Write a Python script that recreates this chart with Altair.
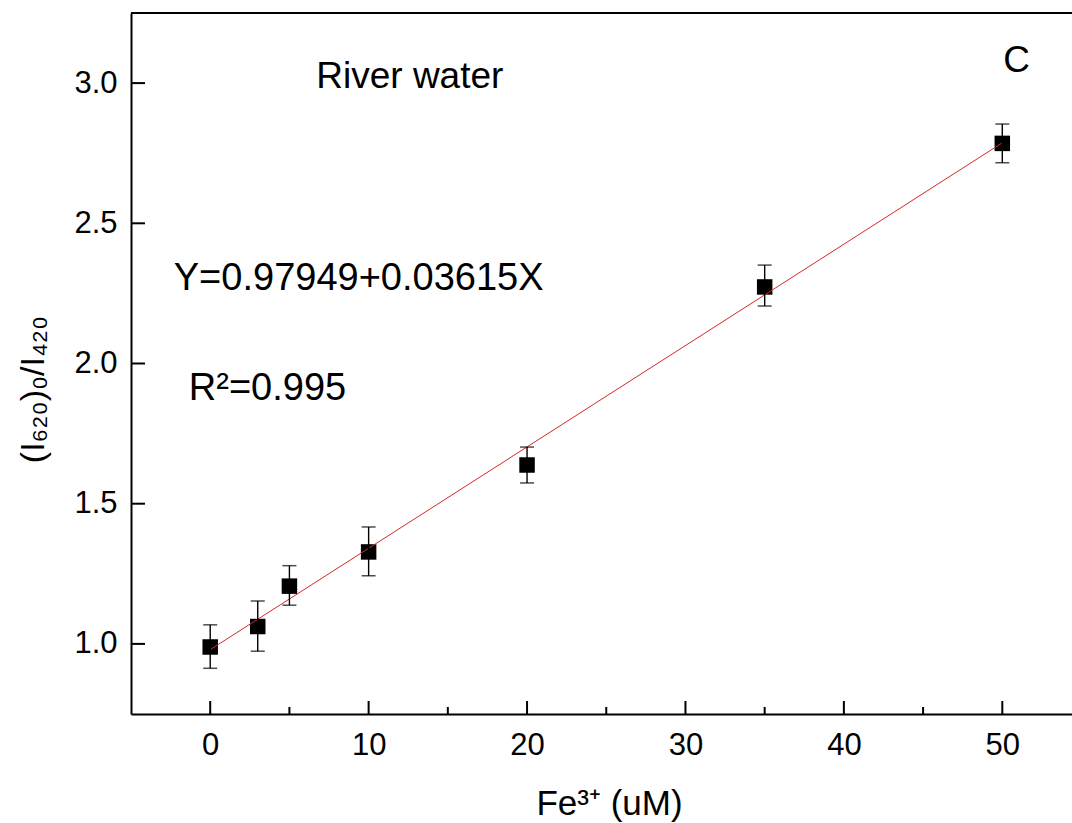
import altair as alt
import pandas as pd

# ---- data ----
conc = [0, 3, 5, 10, 20, 35, 50]
ratio = [0.989, 1.062, 1.206, 1.328, 1.638, 2.273, 2.785]
err_lo = [0.913, 0.974, 1.138, 1.243, 1.574, 2.205, 2.716]
err_hi = [1.068, 1.153, 1.279, 1.417, 1.702, 2.351, 2.854]

fit_intercept = 0.97949
fit_slope = 0.03615
fit_x = [0, 50]

x_major = [0, 10, 20, 30, 40, 50]
x_minor = [5, 15, 25, 35, 45]
y_major = [1.0, 1.5, 2.0, 2.5, 3.0]

ann_text = ["River water", "C"]
ann_x = [12.6, 50.9]
ann_y = [3.02, 3.08]

eq_text = ["Y=0.97949+0.03615X", "R\u00b2=0.995"]
eq_x = [-2.3, -1.35]
eq_y = [2.30, 1.91]

X_DOMAIN = [-5, 54.4]
Y_DOMAIN = [0.75, 3.25]
W, H = 941, 701
FONT = "Liberation Sans"

pts = pd.DataFrame({"x": conc, "y": ratio, "lo": err_lo, "hi": err_hi})
fit = pd.DataFrame({"x": fit_x, "y": [fit_intercept + fit_slope * v for v in fit_x]})
ann = pd.DataFrame({"x": ann_x, "y": ann_y, "t": ann_text})
eq = pd.DataFrame({"x": eq_x, "y": eq_y, "t": eq_text})
xmaj = pd.DataFrame({"x": x_major})
xmin = pd.DataFrame({"x": x_minor})
ymaj = pd.DataFrame({"y": y_major})

xs = alt.Scale(domain=X_DOMAIN, nice=False, zero=False)
ys = alt.Scale(domain=Y_DOMAIN, nice=False, zero=False)

x_axis = alt.Axis(
    values=x_major, format="d", ticks=False, grid=False,
    domainColor="black", domainWidth=2,
    labelFont=FONT, labelFontSize=31, labelColor="black", labelPadding=16,
    title="Fe\u00b3\u207a (uM)", titleFont=FONT, titleFontSize=35, titleFontWeight="normal",
    titleColor="black", titleX=478, titleY=100, titleBaseline="alphabetic",
)
y_axis = alt.Axis(
    values=y_major, format=".1f", ticks=False, grid=False,
    domainColor="black", domainWidth=2,
    labelFont=FONT, labelFontSize=31, labelColor="black", labelPadding=14,
    title="(I\u2086\u2082\u2080)\u2080/I\u2084\u2082\u2080", titleFont=FONT, titleFontSize=34,
    titleFontWeight="normal", titleColor="black",
    titleX=-88, titleY=376, titleAngle=270, titleBaseline="alphabetic", titleAlign="center",
)

base_x = alt.X("x:Q", scale=xs, axis=x_axis)

frame_top = alt.Chart(pd.DataFrame({"x": [0]})).mark_rule(color="black", strokeWidth=2).encode(
    x=alt.value(0), x2=alt.value(W), y=alt.value(0)
)

xmaj_ticks = alt.Chart(xmaj).mark_rule(color="black", strokeWidth=2).encode(
    x=alt.X("x:Q", scale=xs), y=alt.value(H), y2=alt.value(H - 13)
)
xmin_ticks = alt.Chart(xmin).mark_rule(color="black", strokeWidth=2).encode(
    x=alt.X("x:Q", scale=xs), y=alt.value(H), y2=alt.value(H - 7)
)
ymaj_ticks = alt.Chart(ymaj).mark_rule(color="black", strokeWidth=2).encode(
    y=alt.Y("y:Q", scale=ys), x=alt.value(0), x2=alt.value(14)
)

fit_line = alt.Chart(fit).mark_line(color="#d42a2a", strokeWidth=1).encode(
    x=alt.X("x:Q", scale=xs), y=alt.Y("y:Q", scale=ys)
)

err_rule = alt.Chart(pts).mark_rule(color="black", strokeWidth=1.4).encode(
    x=alt.X("x:Q", scale=xs), y=alt.Y("lo:Q", scale=ys), y2="hi:Q"
)
cap_lo = alt.Chart(pts).mark_tick(color="black", thickness=1.5, size=14, orient="horizontal").encode(
    x=alt.X("x:Q", scale=xs), y=alt.Y("lo:Q", scale=ys)
)
cap_hi = alt.Chart(pts).mark_tick(color="black", thickness=1.5, size=14, orient="horizontal").encode(
    x=alt.X("x:Q", scale=xs), y=alt.Y("hi:Q", scale=ys)
)

points = alt.Chart(pts).mark_point(shape="square", filled=True, color="black", opacity=1, size=240).encode(
    x=base_x, y=alt.Y("y:Q", scale=ys, axis=y_axis)
)

ann_marks = alt.Chart(ann).mark_text(font=FONT, fontSize=37, color="black", align="center", baseline="middle").encode(
    x=alt.X("x:Q", scale=xs), y=alt.Y("y:Q", scale=ys), text="t:N"
)
eq_marks = alt.Chart(eq).mark_text(font=FONT, fontSize=38, color="black", align="left", baseline="middle").encode(
    x=alt.X("x:Q", scale=xs), y=alt.Y("y:Q", scale=ys), text="t:N"
)

chart = alt.layer(
    points, fit_line, err_rule, cap_lo, cap_hi, xmaj_ticks, xmin_ticks, ymaj_ticks,
    frame_top, ann_marks, eq_marks
).properties(
    width=W, height=H,
    autosize=alt.AutoSizeParams(type="none"),
    padding={"left": 131, "top": 13, "right": 0, "bottom": 109},
    background="white",
).configure_view(stroke=None)

chart.save("out.html", embed_options={"renderer": "svg", "actions": False})
